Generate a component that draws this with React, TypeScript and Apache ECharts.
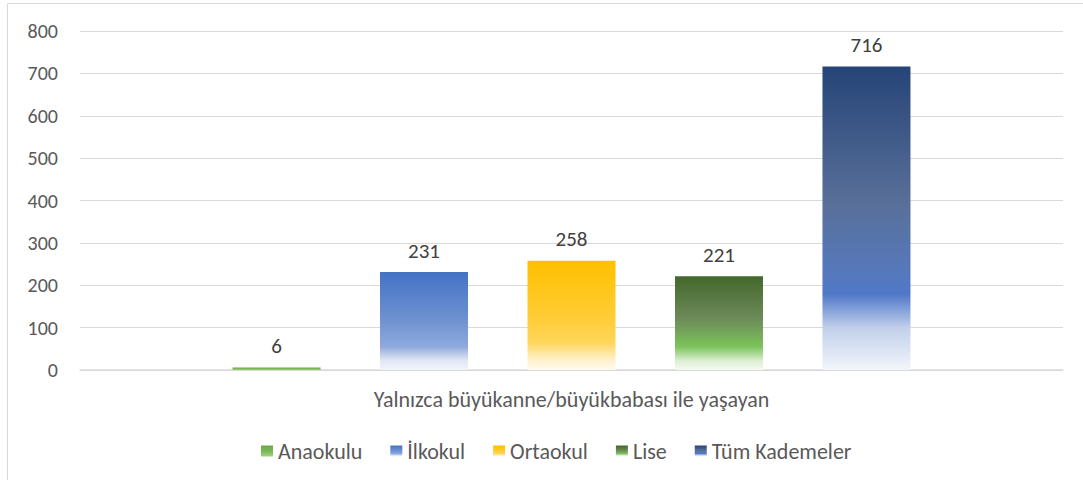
import React, { useEffect, useRef } from "react";
import * as echarts from "echarts";

const categories = ["Yalnızca büyükanne/büyükbabası ile yaşayan"];
const seriesNames = ["Anaokulu", "İlkokul", "Ortaokul", "Lise", "Tüm Kademeler"];
const seriesValues = [6, 231, 258, 221, 716];
const yTicks = { min: 0, max: 800, interval: 100 };

const gradStops: [number, string][][] = [
  [[0, "#6aa84a"], [0.6, "#80bb5c"], [1, "#a3d485"]],
  [[0, "#4472C4"], [0.5, "#6f93d1"], [0.76, "#8fa9dd"], [0.9, "#dfe6f4"], [1, "#f2f5fb"]],
  [[0, "#FFC000"], [0.5, "#ffcc33"], [0.75, "#ffd65c"], [0.9, "#fff0c6"], [1, "#fffaf0"]],
  [[0, "#43682B"], [0.45, "#6d8a59"], [0.75, "#7bc35a"], [0.9, "#dcefd2"], [1, "#f5faf2"]],
  [[0, "#264478"], [0.45, "#586f98"], [0.68, "#5679bd"], [0.75, "#4f78c8"], [0.86, "#c0cfeb"], [1, "#f3f6fb"]],
];

function grad(stops: [number, string][]) {
  return new echarts.graphic.LinearGradient(0, 0, 0, 1, stops.map(([offset, color]) => ({ offset, color })));
}

export default function App() {
  const ref = useRef<HTMLDivElement>(null);
  useEffect(() => {
    if (!ref.current) return;
    const chart = echarts.init(ref.current, undefined, { renderer: "svg" });
    const font = "Calibri, Carlito, 'Open Sans', 'Liberation Sans', sans-serif";
    chart.setOption({
      animation: false,
      textStyle: { fontFamily: font },
      graphic: [
        {
          type: "rect",
          shape: { x: 7.5, y: 3.5, width: 1100, height: 500 },
          style: { fill: "none", stroke: "#d9d9d9", lineWidth: 1 },
          silent: true,
          z: -10,
        },
      ],
      grid: { left: 80, right: 20, top: 31, bottom: 110, containLabel: false },
      legend: {
        top: 435,
        left: 256,
        itemWidth: 12,
        itemHeight: 11,
        itemGap: 28,
        icon: "rect",
        textStyle: { fontSize: 22, color: "#595959", fontFamily: font },
        data: seriesNames,
      },
      xAxis: {
        type: "category",
        data: categories,
        axisLine: { lineStyle: { color: "#d9d9d9", width: 1.5 } },
        axisTick: { show: false },
        axisLabel: { fontSize: 22, color: "#595959", margin: 18, fontFamily: font },
      },
      yAxis: {
        type: "value",
        min: yTicks.min,
        max: yTicks.max,
        interval: yTicks.interval,
        axisLine: { show: false },
        axisTick: { show: false },
        axisLabel: { fontSize: 20, color: "#595959", margin: 22, fontFamily: font },
        splitLine: { lineStyle: { color: "#d9d9d9", width: 1 } },
      },
      series: seriesNames.map((name, i) => ({
        name,
        type: "bar",
        data: [seriesValues[i]],
        barWidth: 88,
        barGap: "67.6%",
        itemStyle: { color: grad(gradStops[i]) },
        label: {
          show: true,
          position: "top",
          distance: 11,
          fontSize: 21,
          fontWeight: "normal",
          color: "#404040",
          fontFamily: font,
        },
      })),
    });
    return () => chart.dispose();
  }, []);
  return (
    <div
      ref={ref}
      style={{ position: "fixed", left: 0, top: 0, width: 1083, height: 480, background: "#fff" }}
    />
  );
}
